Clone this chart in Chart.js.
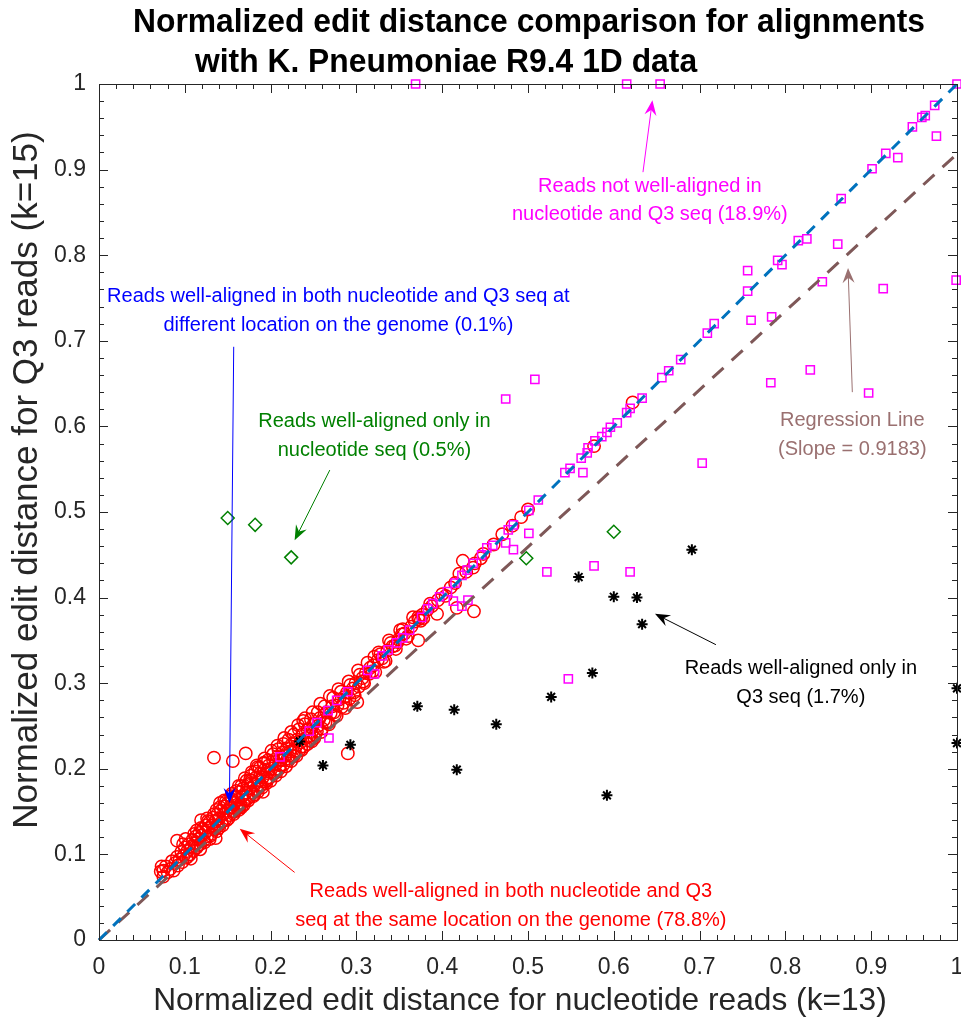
<!DOCTYPE html>
<html>
<head>
<meta charset="utf-8">
<script src="https://cdn.jsdelivr.net/npm/chart.js@4/dist/chart.umd.min.js"></script>
<style>
  html, body { margin: 0; padding: 0; background: #fff; overflow: hidden; }
  canvas { display: block; }
</style>
</head>
<body>
<canvas id="chart" width="961" height="1023"></canvas>
<script>
const FONT = '"Liberation Sans", Arial, Helvetica, sans-serif';

const titleLines = ['Normalized edit distance comparison for alignments', 'with K. Pneumoniae R9.4 1D data'];
const xTitle = 'Normalized edit distance for nucleotide reads (k=13)';
const yTitle = 'Normalized edit distance for Q3 reads (k=15)';
const xTickLabels = ['0', '0.1', '0.2', '0.3', '0.4', '0.5', '0.6', '0.7', '0.8', '0.9', '1'];
const yTickLabels = ['0', '0.1', '0.2', '0.3', '0.4', '0.5', '0.6', '0.7', '0.8', '0.9', '1'];
const regressionSlope = 0.9183;

// reads well-aligned in both, same location (red circles)
const sameLocation = [
  [0.072,0.080],[0.075,0.074],[0.078,0.086],[0.080,0.079],[0.083,0.083],[0.085,0.092],[0.087,0.081],[0.089,0.090],
  [0.091,0.097],[0.092,0.087],[0.094,0.094],[0.096,0.103],[0.097,0.091],[0.099,0.099],[0.100,0.108],[0.102,0.096],
  [0.103,0.104],[0.105,0.112],[0.106,0.100],[0.108,0.109],[0.109,0.117],[0.110,0.104],[0.112,0.113],[0.113,0.121],
  [0.114,0.108],[0.116,0.118],[0.117,0.125],[0.118,0.112],[0.120,0.122],[0.121,0.130],[0.122,0.116],[0.124,0.126],
  [0.125,0.134],[0.126,0.121],[0.128,0.131],[0.129,0.138],[0.131,0.124],[0.132,0.134],[0.133,0.143],[0.135,0.129],
  [0.136,0.139],[0.138,0.147],[0.139,0.133],[0.140,0.142],[0.142,0.151],[0.143,0.138],[0.145,0.147],[0.146,0.156],
  [0.147,0.141],[0.149,0.151],[0.150,0.160],[0.152,0.146],[0.153,0.155],[0.155,0.164],[0.156,0.150],[0.158,0.160],
  [0.159,0.168],[0.161,0.154],[0.162,0.164],[0.164,0.173],[0.165,0.158],[0.167,0.168],[0.168,0.177],[0.170,0.163],
  [0.171,0.172],[0.173,0.181],[0.175,0.167],[0.176,0.177],[0.178,0.186],[0.179,0.172],[0.181,0.181],[0.183,0.190],
  [0.184,0.176],[0.186,0.186],[0.188,0.195],[0.189,0.181],[0.191,0.190],[0.193,0.199],[0.194,0.185],[0.196,0.195],
  [0.198,0.204],[0.199,0.190],[0.201,0.200],[0.203,0.209],[0.205,0.195],[0.206,0.205],[0.208,0.214],[0.210,0.200],
  [0.212,0.210],[0.214,0.219],[0.215,0.205],[0.217,0.215],[0.219,0.224],[0.221,0.210],[0.223,0.220],[0.225,0.229],
  [0.227,0.215],[0.229,0.225],[0.231,0.234],[0.233,0.221],[0.235,0.231],[0.237,0.240],[0.239,0.226],[0.241,0.236],
  [0.243,0.246],[0.246,0.233],[0.248,0.243],[0.250,0.252],[0.252,0.240],[0.255,0.250],[0.257,0.259],[0.260,0.247],
  [0.262,0.257],[0.265,0.266],[0.267,0.255],[0.270,0.265],[0.272,0.273],[0.275,0.263],[0.278,0.274],[0.280,0.281],
  [0.283,0.272],[0.286,0.284],[0.289,0.289],[0.292,0.282],[0.296,0.294],[0.299,0.300],[0.303,0.296],[0.307,0.306],
  [0.311,0.312],[0.315,0.311],[0.320,0.321],[0.325,0.327],[0.330,0.329],[0.336,0.338],[0.342,0.343],[0.349,0.351],
  [0.356,0.358],[0.364,0.366],[0.373,0.375],[0.383,0.386],[0.395,0.397],[0.410,0.412],[0.428,0.430],[0.448,0.451],
  [0.470,0.474],[0.500,0.503],
  [0.098,0.112],[0.104,0.098],[0.111,0.124],[0.115,0.110],[0.119,0.131],[0.123,0.114],[0.127,0.139],[0.130,0.122],
  [0.134,0.147],[0.137,0.127],[0.141,0.155],[0.144,0.134],[0.148,0.162],[0.151,0.142],[0.154,0.168],[0.157,0.147],
  [0.160,0.174],[0.163,0.152],[0.166,0.180],[0.169,0.158],[0.172,0.186],[0.174,0.163],[0.177,0.192],[0.180,0.168],
  [0.182,0.197],[0.185,0.173],[0.187,0.201],[0.190,0.178],[0.192,0.206],[0.195,0.183],[0.197,0.210],[0.200,0.186],
  [0.203,0.217],[0.206,0.192],[0.209,0.223],[0.212,0.197],[0.215,0.229],[0.218,0.203],[0.221,0.234],[0.224,0.209],
  [0.227,0.240],[0.230,0.215],[0.233,0.246],[0.236,0.222],[0.240,0.252],[0.243,0.229],[0.247,0.258],[0.251,0.236],
  [0.255,0.266],[0.259,0.243],[0.263,0.273],[0.268,0.252],[0.273,0.283],[0.277,0.262],[0.282,0.290],[0.287,0.271],
  [0.293,0.298],[0.298,0.286],[0.304,0.310],[0.309,0.300],[0.316,0.318],[0.322,0.313],[0.328,0.334],[0.334,0.326],
  [0.340,0.347],[0.346,0.340],[0.353,0.357],[0.360,0.355],[0.368,0.372],[0.377,0.380],[0.388,0.390],[0.400,0.404],
  [0.415,0.417],[0.438,0.440],[0.460,0.462],[0.482,0.484],
  [0.101,0.118],[0.107,0.095],[0.114,0.128],[0.118,0.106],[0.126,0.142],[0.129,0.118],[0.137,0.152],[0.140,0.131],
  [0.146,0.163],[0.149,0.140],[0.155,0.171],[0.158,0.150],[0.163,0.180],[0.166,0.155],[0.170,0.189],[0.173,0.165],
  [0.178,0.196],[0.181,0.170],[0.184,0.204],[0.188,0.180],[0.193,0.212],[0.196,0.187],[0.201,0.221],[0.204,0.195],
  [0.208,0.227],[0.211,0.204],[0.216,0.236],[0.220,0.212],[0.224,0.243],[0.228,0.220],[0.232,0.251],[0.236,0.226],
  [0.240,0.259],[0.245,0.238],[0.249,0.266],[0.254,0.244],[0.258,0.276],[0.264,0.254],[0.269,0.285],[0.274,0.266],
  [0.279,0.293],[0.285,0.277],[0.291,0.302],[0.297,0.289],[0.302,0.315],[0.308,0.302],[0.313,0.324],[0.319,0.314],
  [0.326,0.336],[0.332,0.325],[0.338,0.350],[0.345,0.344],[0.351,0.362],[0.358,0.352],[0.366,0.377],[0.375,0.373],
  [0.386,0.393],[0.404,0.402],[0.420,0.428],[0.445,0.446],
  [0.134,0.213],[0.156,0.209],[0.171,0.218],[0.141,0.160],[0.119,0.140],[0.091,0.116],[0.136,0.119],[0.073,0.086],
  [0.075,0.081],[0.238,0.256],[0.248,0.232],[0.196,0.189],[0.191,0.173],[0.164,0.155],[0.185,0.202],[0.192,0.207],
  [0.176,0.187],[0.290,0.218],[0.301,0.278],[0.622,0.628],[0.577,0.577],[0.492,0.494],[0.424,0.443],[0.436,0.435],
  [0.417,0.388],[0.437,0.384],[0.394,0.381],[0.378,0.376],[0.372,0.377],[0.354,0.363],[0.372,0.350],[0.348,0.348],
  [0.321,0.331]
];

// reads not well-aligned (magenta squares)
const notAligned = [
  [0.369,1.000],[0.615,1.000],[0.654,1.000],[1.000,1.000],
  [0.974,0.975],[0.948,0.950],[0.959,0.961],[0.963,0.963],[0.976,0.939],[0.917,0.919],[0.931,0.914],[0.901,0.901],
  [0.865,0.866],[0.815,0.817],[0.825,0.819],[0.861,0.813],[0.791,0.794],[0.796,0.789],[0.756,0.782],[0.756,0.758],
  [0.843,0.769],[0.914,0.761],[0.999,0.771],[0.760,0.724],[0.784,0.728],[0.717,0.720],[0.709,0.709],[0.783,0.651],
  [0.829,0.666],[0.897,0.639],[0.703,0.557],[0.678,0.678],[0.664,0.665],[0.656,0.657],[0.633,0.633],[0.619,0.621],
  [0.615,0.616],[0.604,0.604],[0.596,0.599],[0.592,0.593],[0.586,0.588],[0.578,0.583],[0.570,0.575],[0.569,0.569],
  [0.562,0.563],[0.549,0.551],[0.543,0.546],[0.564,0.546],[0.508,0.655],[0.474,0.632],[0.512,0.514],[0.501,0.502],
  [0.483,0.485],[0.477,0.479],[0.501,0.475],[0.474,0.464],[0.483,0.456],[0.459,0.461],[0.452,0.458],[0.446,0.450],
  [0.436,0.440],[0.429,0.432],[0.423,0.426],[0.415,0.417],[0.406,0.407],[0.397,0.401],[0.413,0.396],[0.430,0.397],
  [0.423,0.390],[0.389,0.393],[0.383,0.387],[0.376,0.377],[0.362,0.362],[0.354,0.353],[0.347,0.347],[0.337,0.339],
  [0.330,0.332],[0.321,0.311],[0.313,0.315],[0.290,0.290],[0.277,0.280],[0.267,0.268],[0.254,0.254],[0.245,0.244],
  [0.211,0.214],[0.268,0.236],[0.522,0.430],[0.577,0.437],[0.619,0.430],[0.547,0.305]
];

// reads well-aligned only in nucleotide seq (green diamonds)
const nucleotideOnly = [[0.150,0.493],[0.182,0.485],[0.224,0.447],[0.498,0.446],[0.600,0.477]];

// reads well-aligned only in Q3 seq (black asterisks)
const q3Only = [
  [0.691,0.456],[0.559,0.424],[0.600,0.401],[0.627,0.400],[0.633,0.369],[0.575,0.312],[0.527,0.284],[0.371,0.273],
  [0.414,0.269],[0.463,0.252],[0.234,0.232],[0.293,0.228],[0.261,0.204],[0.417,0.199],[0.592,0.169],[1.000,0.294],
  [1.000,0.230]
];

const diagonal = [[0, 0], [1, 1]];
const regression = [[0, 0], [1, regressionSlope]];

// text notes with arrows, in data units
const notes = [
  { lines: ['Reads not well-aligned in', 'nucleotide and Q3 seq (18.9%)'], color: '#FF00FF', x: 0.642, y: 0.864, from: [0.634, 0.897], to: [0.645, 0.981] },
  { lines: ['Reads well-aligned in both nucleotide and Q3 seq at', 'different location on the genome (0.1%)'], color: '#0000FF', x: 0.279, y: 0.735, from: [0.157, 0.693], to: [0.152, 0.160] },
  { lines: ['Reads well-aligned only in', 'nucleotide seq (0.5%)'], color: '#008000', x: 0.321, y: 0.589, from: [0.269, 0.549], to: [0.228, 0.467] },
  { lines: ['Reads well-aligned only in', 'Q3 seq (1.7%)'], color: '#000000', x: 0.818, y: 0.300, from: [0.719, 0.345], to: [0.648, 0.381] },
  { lines: ['Reads well-aligned in both nucleotide and Q3', 'seq at the same location on the genome (78.8%)'], color: '#FF0000', x: 0.480, y: 0.040, from: [0.228, 0.079], to: [0.164, 0.130] },
  { lines: ['Regression Line', '(Slope = 0.9183)'], color: '#9A7070', x: 0.878, y: 0.590, from: [0.878, 0.640], to: [0.873, 0.785] }
];

const toXY = arr => arr.map(p => ({ x: p[0], y: p[1] }));

function drawArrow(ctx, x1, y1, x2, y2, color) {
  const ang = Math.atan2(y2 - y1, x2 - x1);
  const len = 15, half = 6;
  ctx.save();
  ctx.strokeStyle = color;
  ctx.fillStyle = color;
  ctx.lineWidth = 1;
  ctx.beginPath();
  ctx.moveTo(x1, y1);
  ctx.lineTo(x2 - Math.cos(ang) * len * 0.6, y2 - Math.sin(ang) * len * 0.6);
  ctx.stroke();
  ctx.translate(x2, y2);
  ctx.rotate(ang);
  ctx.beginPath();
  ctx.moveTo(0, 0);
  ctx.lineTo(-len, -half);
  ctx.lineTo(-len * 0.65, 0);
  ctx.lineTo(-len, half);
  ctx.closePath();
  ctx.fill();
  ctx.restore();
}

const notesPlugin = {
  id: 'notes',
  afterDatasetsDraw(chart) {
    const ctx = chart.ctx, xs = chart.scales.x, ys = chart.scales.y;
    ctx.save();
    ctx.font = '20px ' + FONT;
    ctx.textAlign = 'center';
    ctx.textBaseline = 'middle';
    notes.forEach(n => {
      const cx = xs.getPixelForValue(n.x), cy = ys.getPixelForValue(n.y);
      const lh = 28.5;
      ctx.fillStyle = n.color;
      n.lines.forEach((t, i) => ctx.fillText(t, cx, cy + (i - (n.lines.length - 1) / 2) * lh));
      drawArrow(ctx, xs.getPixelForValue(n.from[0]), ys.getPixelForValue(n.from[1]),
        xs.getPixelForValue(n.to[0]), ys.getPixelForValue(n.to[1]), n.color);
    });
    ctx.restore();
  }
};

const framePlugin = {
  id: 'frame',
  afterDraw(chart) {
    const ctx = chart.ctx, a = chart.chartArea, xs = chart.scales.x, ys = chart.scales.y;
    ctx.save();
    ctx.strokeStyle = '#262626';
    ctx.lineWidth = 1;
    ctx.beginPath();
    for (let i = 0; i <= 50; i++) {
      const v = i / 50;
      const len = i % 5 === 0 ? 9 : 5;
      const px = Math.round(xs.getPixelForValue(v)) + 0.5;
      const py = Math.round(ys.getPixelForValue(v)) + 0.5;
      ctx.moveTo(px, a.bottom); ctx.lineTo(px, a.bottom - len);
      ctx.moveTo(px, a.top); ctx.lineTo(px, a.top + len);
      ctx.moveTo(a.left, py); ctx.lineTo(a.left + len, py);
      ctx.moveTo(a.right, py); ctx.lineTo(a.right - len, py);
    }
    ctx.stroke();
    ctx.strokeRect(Math.round(a.left) + 0.5, Math.round(a.top) + 0.5, Math.round(a.right - a.left), Math.round(a.bottom - a.top));

    // title
    ctx.fillStyle = '#000';
    ctx.font = 'bold 33px ' + FONT;
    const sx = 792 / ctx.measureText(titleLines[0]).width;
    ctx.textBaseline = 'alphabetic';
    ctx.save();
    ctx.translate(529, 32); ctx.scale(sx, 1);
    ctx.textAlign = 'center';
    ctx.fillText(titleLines[0], 0, 0);
    ctx.restore();
    ctx.save();
    ctx.translate(195, 72); ctx.scale(sx, 1);
    ctx.textAlign = 'left';
    ctx.fillText(titleLines[1], 0, 0);
    ctx.restore();

    // axis titles
    ctx.fillStyle = '#262626';
    ctx.textAlign = 'center';
    ctx.textBaseline = 'middle';
    ctx.font = '28px ' + FONT;
    let fs = 28 * 735 / ctx.measureText(xTitle).width;
    ctx.font = fs.toFixed(1) + 'px ' + FONT;
    ctx.fillText(xTitle, 520, 1001);
    ctx.font = '28px ' + FONT;
    fs = 28 * 698 / ctx.measureText(yTitle).width;
    ctx.font = fs.toFixed(1) + 'px ' + FONT;
    ctx.save();
    ctx.translate(27, 480);
    ctx.rotate(-Math.PI / 2);
    ctx.fillText(yTitle, 0, 0);
    ctx.restore();
    ctx.restore();
  }
};

const axisTicks = labels => ({
  stepSize: 0.1,
  autoSkip: false,
  maxRotation: 0,
  color: '#262626',
  font: { family: FONT, size: 23 },
  callback: (v, i) => labels[i]
});

new Chart(document.getElementById('chart').getContext('2d'), {
  type: 'scatter',
  data: {
    datasets: [
      { data: toXY(diagonal), showLine: true, pointRadius: 0, borderColor: '#0072BD', borderWidth: 3, borderDash: [11, 9] },
      { data: toXY(regression), showLine: true, pointRadius: 0, borderColor: '#7E5858', borderWidth: 3, borderDash: [15, 11] },
      { data: toXY(q3Only), pointStyle: 'star', pointRadius: 5.5, borderColor: '#000', borderWidth: 2 },
      { data: toXY(nucleotideOnly), pointStyle: 'rectRot', pointRadius: 6.5, borderColor: '#008000', backgroundColor: 'rgba(0,0,0,0)', borderWidth: 1.5 },
      { data: toXY(notAligned), pointStyle: 'rect', pointRadius: 5.8, borderColor: '#FF00FF', backgroundColor: 'rgba(0,0,0,0)', borderWidth: 1.5 },
      { data: toXY(sameLocation), pointStyle: 'circle', pointRadius: 6.2, borderColor: '#FF0000', backgroundColor: 'rgba(0,0,0,0)', borderWidth: 1.5 }
    ]
  },
  options: {
    responsive: false,
    animation: false,
    devicePixelRatio: 1,
    events: [],
    clip: false,
    layout: { autoPadding: false, padding: { top: 84, right: 4, left: 0, bottom: 0 } },
    plugins: { legend: { display: false }, tooltip: { enabled: false }, title: { display: false } },
    scales: {
      x: {
        type: 'linear', min: 0, max: 1,
        ticks: Object.assign(axisTicks(xTickLabels), { padding: 14 }),
        grid: { display: false, drawTicks: false },
        border: { display: false },
        afterFit: s => { s.height = 83; s.paddingLeft = 0; s.paddingRight = 0; }
      },
      y: {
        type: 'linear', min: 0, max: 1,
        ticks: Object.assign(axisTicks(yTickLabels), { padding: 13 }),
        grid: { display: false, drawTicks: false },
        border: { display: false },
        afterFit: s => { s.width = 99; s.paddingTop = 0; s.paddingBottom = 0; }
      }
    }
  },
  plugins: [notesPlugin, framePlugin]
});
</script>
</body>
</html>
